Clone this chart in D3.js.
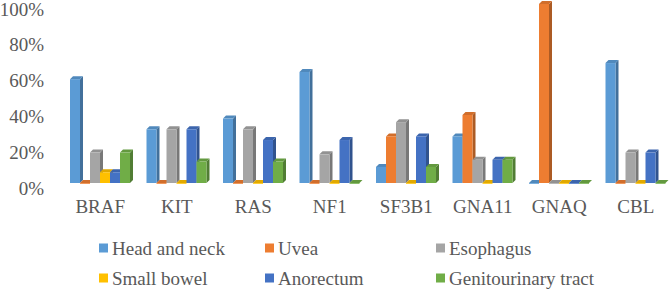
<!DOCTYPE html>
<html>
<head>
<meta charset="utf-8">
<script src="https://cdn.jsdelivr.net/npm/d3@7"></script>
<style>
  body { margin: 0; background: #fff; }
</style>
</head>
<body>
<div id="chart-area"></div>
<script>
// data
var genes = ["BRAF", "KIT", "RAS", "NF1", "SF3B1", "GNA11", "GNAQ", "CBL"];
var sites = ["Head and neck", "Uvea", "Esophagus", "Small bowel", "Anorectum", "Genitourinary tract"];
var headNeck     = [58, 30, 36, 62, 9, 26, 0, 67];
var uvea         = [0, 0, 0, 0, 26, 38, 100, 0];
var esophagus    = [17, 30, 30, 16, 34, 13, 0, 17];
var smallBowel   = [6, 0, 0, 0, 0, 0, 0, 0];
var anorectum    = [6, 30, 24, 24, 26, 13, 0, 17];
var genitourinary = [17, 12, 12, 0, 9, 13, 0, 0];
var yTicks = [0, 20, 40, 60, 80, 100];

var series = [headNeck, uvea, esophagus, smallBowel, anorectum, genitourinary];
var colors = ["#5B9BD5", "#ED7D31", "#A5A5A5", "#FFC000", "#4472C4", "#70AD47"];

var FONT = "'Liberation Serif', 'Times New Roman', serif";
var W = 669, H = 289;
var base = 183;
var depth = 3;

var svg = d3.select("#chart-area").append("svg")
    .attr("width", W)
    .attr("height", H);

var x = d3.scaleBand()
    .domain(genes)
    .range([62, 674]);

var xInner = d3.scaleBand()
    .domain(sites)
    .range([8, 68]);

var y = d3.scaleLinear()
    .domain([0, 100])
    .range([base, 4]);

// y axis labels
var yAxis = svg.append("g")
    .attr("transform", "translate(44, 4.5)")
    .call(d3.axisLeft(y).tickValues(yTicks).tickSize(0).tickPadding(0)
        .tickFormat(function(d) { return d + "%"; }));
yAxis.select(".domain").remove();
yAxis.selectAll("text")
    .style("font-family", FONT)
    .style("font-size", "19px")
    .attr("fill", "#595959")
    .attr("dy", "0.35em");

// x axis labels
var xAxis = svg.append("g")
    .attr("transform", "translate(0, 196)")
    .call(d3.axisBottom(x).tickSize(0).tickPadding(0));
xAxis.select(".domain").remove();
xAxis.selectAll("text")
    .style("font-family", FONT)
    .style("font-size", "19px")
    .attr("fill", "#595959")
    .attr("dy", "0.9em");

// bars, drawn left to right so the next front face hides the side
var bars = [];
genes.forEach(function(g, gi) {
    sites.forEach(function(s, si) {
        bars.push({gene: g, site: s, value: series[si][gi], color: colors[si]});
    });
});

var barG = svg.append("g");
var bw = xInner.bandwidth();

bars.forEach(function(d) {
    var x0 = x(d.gene) + xInner(d.site);
    var top = y(d.value);
    var c = d3.color(d.color);
    var g = barG.append("g");
    // side
    g.append("polygon")
        .attr("points", [[x0 + bw, top], [x0 + bw + depth, top - depth],
            [x0 + bw + depth, base - depth], [x0 + bw, base]].join(" "))
        .attr("fill", c.darker(0.9));
    // top
    g.append("polygon")
        .attr("points", [[x0, top], [x0 + depth, top - depth],
            [x0 + bw + depth, top - depth], [x0 + bw, top]].join(" "))
        .attr("fill", c.darker(0.35));
    // front
    g.append("rect")
        .attr("x", x0)
        .attr("y", top)
        .attr("width", bw)
        .attr("height", Math.max(base - top, 0.8))
        .attr("fill", d.color);
});

// legend
var legX = [99, 265, 436];
var legY = [248, 278];
var legend = svg.append("g");
sites.forEach(function(s, i) {
    var lx = legX[i % 3], ly = legY[Math.floor(i / 3)];
    legend.append("rect")
        .attr("x", lx)
        .attr("y", ly - 4.5)
        .attr("width", 9)
        .attr("height", 9)
        .attr("fill", colors[i]);
    legend.append("text")
        .attr("x", lx + 13)
        .attr("y", ly)
        .attr("dy", "0.35em")
        .style("font-family", FONT)
        .style("font-size", "19px")
        .attr("fill", "#595959")
        .text(s);
});
</script>
</body>
</html>
